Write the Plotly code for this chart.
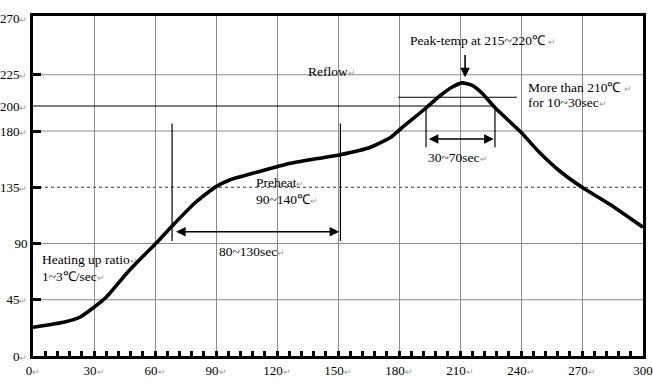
import plotly.graph_objects as go

# ---- data ----
time_s = [0, 8, 15, 23, 30, 36, 46, 53, 61, 69, 80, 87, 90, 97, 110, 126, 140, 151,
          166, 176, 181, 193, 200, 206, 211, 216, 221, 227, 240, 249, 259, 270, 284, 300]
temp_c = [23, 25, 27, 31, 39, 47, 66, 78, 91, 105, 123, 132, 135.5, 141, 147, 154, 158, 161,
          167, 175, 182, 198, 208, 215, 218.5, 216.5, 210, 199, 179, 163, 148, 135, 121, 103]

x_ticks = [0, 30, 60, 90, 120, 150, 180, 210, 240, 270, 300]
x_tick_text = ["0", "30", "60", "90", "120", "150", "180", "210", "240", "270", "300"]
y_ticks = [0, 45, 90, 135, 180, 200, 225, 270]
y_tick_text = ["0", "45", "90", "135", "180", "200", "225", "270"]
y_major_marks = [45, 90, 135, 180, 225]
y_grid_gray = [45, 90, 180, 225]
y_grid_dotted = [135]

# annotation geometry (data units)
line_200 = [0, 227.5, 200]          # x0, x1, y
line_210 = [179.5, 238, 207]         # x0, x1, y
preheat_marks = [68.4, 151.2]        # vertical markers
preheat_span = [92, 186]             # y0, y1
preheat_arrow_y = 99.4
reflow_marks = [193.3, 227.2]
reflow_span = [167, 200]
reflow_arrow_y = 173.6
peak_arrow = [212.5, 242, 223]       # x, y_from, y_to

ARW = "<span style='color:#9a9a9a;font-size:9px'>↵</span>"
FONT = "Liberation Serif"

fig = go.Figure()
fig.add_trace(go.Scatter(x=time_s, y=temp_c, mode="lines",
                         line=dict(color="black", width=3.6, shape="spline", smoothing=0.5),
                         hoverinfo="skip", showlegend=False))

shapes = []
for g in y_grid_gray:
    shapes.append(dict(type="line", xref="x", yref="y", x0=0, x1=300, y0=g, y1=g,
                       line=dict(color="#8c8c8c", width=1), layer="below"))
for g in y_grid_dotted:
    shapes.append(dict(type="line", xref="x", yref="y", x0=0, x1=300, y0=g, y1=g,
                       line=dict(color="#333", width=1, dash="dot"), layer="below"))
shapes.append(dict(type="line", x0=line_200[0], x1=line_200[1], y0=line_200[2], y1=line_200[2],
                   line=dict(color="black", width=1.2)))
shapes.append(dict(type="line", x0=line_210[0], x1=line_210[1], y0=line_210[2], y1=line_210[2],
                   line=dict(color="black", width=1.2)))
for m in preheat_marks:
    shapes.append(dict(type="line", x0=m, x1=m, y0=preheat_span[0], y1=preheat_span[1],
                       line=dict(color="black", width=1.2)))
for m in reflow_marks:
    shapes.append(dict(type="line", x0=m, x1=m, y0=reflow_span[0], y1=reflow_span[1],
                       line=dict(color="black", width=1.2)))

annots = []
def txt(x, y, s, anchor="left"):
    annots.append(dict(x=x, y=y, xref="x", yref="y", text=s, showarrow=False,
                       xanchor=anchor, yanchor="middle",
                       font=dict(family=FONT, size=13.5, color="black")))

def arrow(x, y, ax, ay, both=False):
    annots.append(dict(x=x, y=y, ax=ax, ay=ay, xref="x", yref="y", axref="x", ayref="y",
                       text="", showarrow=True, arrowhead=2, arrowsize=1.2, arrowwidth=1.6,
                       arrowcolor="black", standoff=0, startstandoff=0,
                       arrowside="end+start" if both else "end"))

arrow(preheat_marks[1] - 0.6, preheat_arrow_y, preheat_marks[0] + 1.2, preheat_arrow_y, both=True)
arrow(reflow_marks[1] - 0.6, reflow_arrow_y, reflow_marks[0] + 0.6, reflow_arrow_y, both=True)
arrow(peak_arrow[0], peak_arrow[2], peak_arrow[0], peak_arrow[1])

txt(3.4, 77.6, "Heating up ratio" + ARW)
txt(3.4, 64, "1~3℃/sec" + ARW)
txt(108.5, 138.6, "Preheat" + ARW)
txt(108.5, 125.6, "90~140℃" + ARW)
txt(90.5, 84, "80~130sec" + ARW)
txt(134.5, 227.5, "Reflow" + ARW)
txt(184.5, 252.8, "Peak-temp at 215~220℃ " + ARW)
txt(242.5, 215, "More than 210℃ " + ARW)
txt(242.5, 202.5, "for 10~30sec" + ARW)
txt(209, 159, "30~70sec" + ARW, anchor="center")

fig.update_layout(
    width=653, height=385,
    margin=dict(l=33, r=10, t=16, b=29, autoexpand=False),
    paper_bgcolor="white", plot_bgcolor="white",
    shapes=shapes, annotations=annots,
    font=dict(family=FONT, size=13, color="black"),
    showlegend=False,
    xaxis=dict(range=[0, 300], tickmode="array", tickvals=x_ticks,
               ticktext=[t + ARW for t in x_tick_text[:-1]] + [x_tick_text[-1]],
               ticks="inside", ticklen=5, tickwidth=3, tickcolor="black",
               showgrid=True, gridcolor="#8c8c8c", gridwidth=1,
               minor=dict(dtick=6, tick0=0, ticks="inside", ticklen=5, tickwidth=3,
                          tickcolor="black", showgrid=False),
               showline=True, linewidth=3, linecolor="black", mirror=True,
               zeroline=False, automargin=False, tickfont=dict(family=FONT, size=13)),
    yaxis=dict(range=[0, 272], tickmode="array", tickvals=y_ticks,
               ticktext=[t if t == "90" else t + ARW for t in y_tick_text],
               ticks="", showgrid=False, ticklabelstandoff=0,
               minor=dict(tickmode="array", tickvals=y_major_marks, ticks="inside",
                          ticklen=8, tickwidth=3, tickcolor="black", showgrid=False),
               showline=True, linewidth=3, linecolor="black", mirror=True,
               zeroline=False, automargin=False, tickfont=dict(family=FONT, size=13)),
)

fig.write_html("out.html", config={"displayModeBar": False},
               post_script="document.body.style.margin='0';document.body.style.overflow='hidden';")
